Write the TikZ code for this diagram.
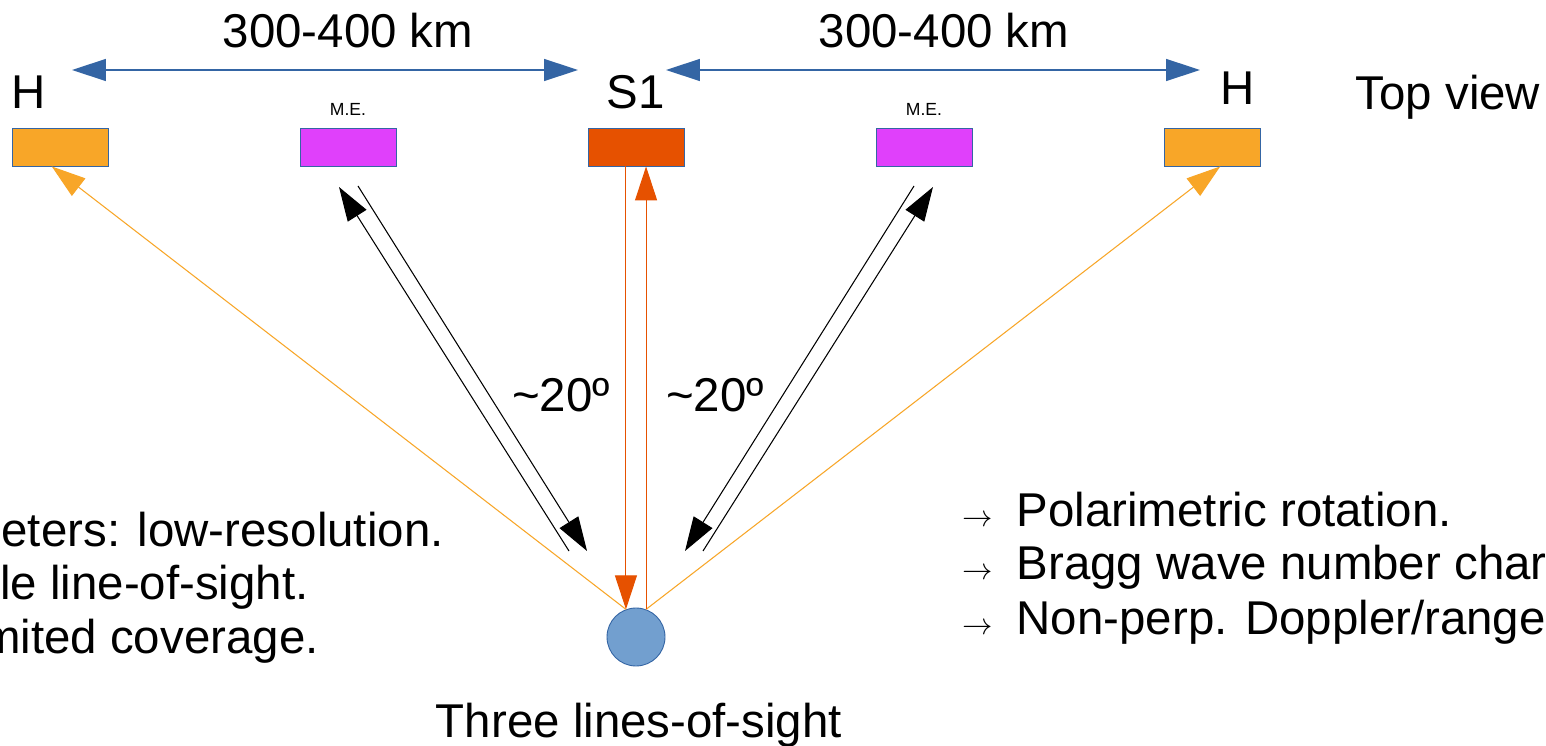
\documentclass[tikz,border=0pt]{standalone}
\usepackage{fontspec}
\setmainfont{Liberation Sans}
\usepackage{tikz}
\usetikzlibrary{arrows.meta,positioning,calc}
\definecolor{hOrange}{HTML}{F8A628}
\definecolor{meMagenta}{HTML}{E040FB}
\definecolor{sRed}{HTML}{E65100}
\definecolor{lineBlue}{HTML}{3465A4}
\definecolor{siteBlue}{HTML}{729FCF}
\newcommand{\losarrow}{{\fontsize{17}{17}\selectfont$\rightarrow$}\hspace{0.48cm}}

\begin{document}
\begin{tikzpicture}[x=0.02cm, y=-0.02cm, >={Triangle[length=0.68cm,width=0.44cm]},
  radar/.style={draw=lineBlue, line width=0.5pt, minimum width=1.92cm, minimum height=0.76cm, inner sep=0pt},
  big/.style={font=\fontsize{27}{32}\selectfont, inner sep=0pt, anchor=base},
  tiny/.style={font=\fontsize{10}{12}\selectfont, inner sep=0pt, anchor=base},
  dimline/.style={draw=lineBlue, line width=0.8pt, <->},
  hline/.style={draw=hOrange, line width=0.6pt, ->},
  sline/.style={draw=sRed, line width=0.6pt, ->},
  kline/.style={draw=black, line width=0.6pt, ->}]
\useasboundingbox (0,0) rectangle (1546,746);
\clip (0,0) rectangle (1546,746);
\fill[white] (0,0) rectangle (1546,746);
\node[radar, fill=hOrange] (hL) at (60,147) {};
\node[radar, fill=meMagenta] (meL) at (348,147) {};
\node[radar, fill=sRed] (s1) at (636,147) {};
\node[radar, fill=meMagenta] (meR) at (924,147) {};
\node[radar, fill=hOrange] (hR) at (1212,147) {};
\node[circle, draw=lineBlue, line width=0.5pt, fill=siteBlue, minimum size=1.16cm, inner sep=0pt] (site) at (636,637) {};
\node[big] (hLlab) at (29,109) {H};
\node[big] (s1lab) at (636,109) {S1};
\node[big] (hRlab) at (1238,105) {H};
\node[tiny] (meLlab) at (348,116) {M.E.};
\node[tiny] (meRlab) at (924,116) {M.E.};
\node[big] (topview) at (1448,110) {Top view};
\node[big] (distL) at (348,48) {300-400 km};
\node[big] (distR) at (944,48) {300-400 km};
\node[big] (angL) at (561,412) {\textasciitilde20º};
\node[big] (angR) at (715,412) {\textasciitilde20º};
\node[big] (los) at (639,737) {Three lines-of-sight};
\node[big, anchor=base east] (cons1) at (444,547) {meters: low-resolution.};
\node[big, anchor=base east] (cons2) at (309,600) {le line-of-sight.};
\node[big, anchor=base east] (cons3) at (319,653) {mited coverage.};
\node[big, anchor=base west] (pro1) at (962,527) {\losarrow Polarimetric rotation.};
\node[big, anchor=base west] (pro2) at (962,580) {\losarrow Bragg wave number char};
\node[big, anchor=base west] (pro3) at (962,634) {\losarrow Non-perp. Doppler/range};
\coordinate (dA) at (72,70);
\coordinate (dB) at (578,70);
\coordinate (dC) at (666,70);
\coordinate (dD) at (1200,70);
\draw[dimline] (dA) -- (dB);
\draw[dimline] (dC) -- (dD);
\draw[hline] (site.110) -- (hL.247);
\draw[hline] (site.70) -- (hR.293);
\draw[sline] (s1.south -| site.110) -- (site.110);
\draw[sline] (site.70) -- (s1.south -| site.70);
\coordinate (kA1) at (569,551);
\coordinate (kA2) at (339,187);
\coordinate (kB1) at (358,186);
\coordinate (kB2) at (587,551);
\coordinate (kC1) at (914,186);
\coordinate (kC2) at (685,551);
\coordinate (kD1) at (703,551);
\coordinate (kD2) at (933,187);
\draw[kline] (kA1) -- (kA2);
\draw[kline] (kB1) -- (kB2);
\draw[kline] (kC1) -- (kC2);
\draw[kline] (kD1) -- (kD2);
\end{tikzpicture}
\end{document}
